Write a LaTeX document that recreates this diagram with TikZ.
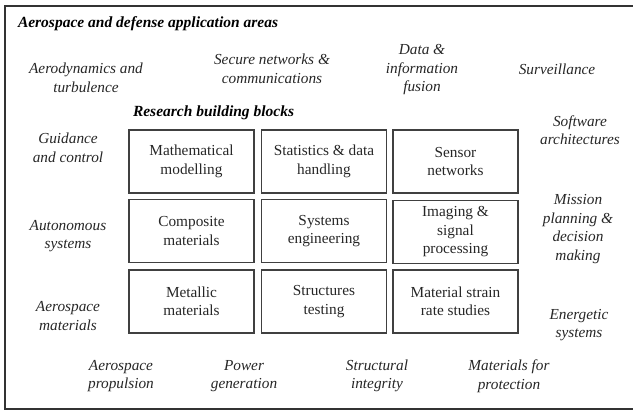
\documentclass[tikz,border=0pt]{standalone}
\usepackage{fontspec}
\setmainfont{Liberation Serif}
\begin{document}
\begin{tikzpicture}[x=1pt,y=-1pt,
  every node/.style={inner sep=0pt, outer sep=0pt},
  area/.style={font=\fontsize{15.3}{18.5}\selectfont\itshape, align=center, text=black!85},
  head/.style={font=\fontsize{15.5}{18}\selectfont\bfseries\itshape, anchor=west},
  block/.style={draw=black!75, line width=1.2pt, minimum width=125pt, minimum height=63pt,
    font=\fontsize{15.3}{18.5}\selectfont, align=center, text=black!85}]
\useasboundingbox (0,0) rectangle (633,411);
\draw[line width=2pt, black!80] (640,6) -- (5,6) -- (5,409) -- (640,409);
\node[head] (t1) at (18,24) {Aerospace and defense application areas};
\node[head] (t2) at (133,113) {Research building blocks};
% blocks
\node[block] (b11) at (191.5,161.5) {Mathematical\\modelling};
\node[block] (b12) at (324,161.5) {Statistics \& data\\handling};
\node[block] (b13) at (455.5,161.5) {Sensor\\networks};
\node[block] (b21) at (191.5,231) {Composite\\materials};
\node[block] (b22) at (324,231) {Systems\\engineering};
\node[block] (b23) at (455.5,232) {Imaging \&\\signal\\processing};
\node[block] (b31) at (191.5,301.5) {Metallic\\materials};
\node[block] (b32) at (324,301.5) {Structures\\testing};
\node[block] (b33) at (455.5,301.5) {Material strain\\rate studies};
% application areas
\node[area] (a1) at (86,78) {Aerodynamics and\\turbulence};
\node[area] (a2) at (272,69) {Secure networks \&\\communications};
\node[area] (a3) at (422,70) {Data \&\\information\\fusion};
\node[area] (a4) at (557,69) {Surveillance};
\node[area] (a5) at (68,148) {Guidance\\and control};
\node[area] (a6) at (580,130) {Software\\architectures};
\node[area] (a7) at (68,236) {Autonomous\\systems};
\node[area] (a8) at (578,229) {Mission\\planning \&\\decision\\making};
\node[area] (a9) at (68,316) {Aerospace\\materials};
\node[area] (a10) at (579,325) {Energetic\\systems};
\node[area] (a11) at (121,376) {Aerospace\\propulsion};
\node[area] (a12) at (244,376) {Power\\generation};
\node[area] (a13) at (377,376) {Structural\\integrity};
\node[area] (a14) at (509,376) {Materials for\\protection};
\end{tikzpicture}
\end{document}
